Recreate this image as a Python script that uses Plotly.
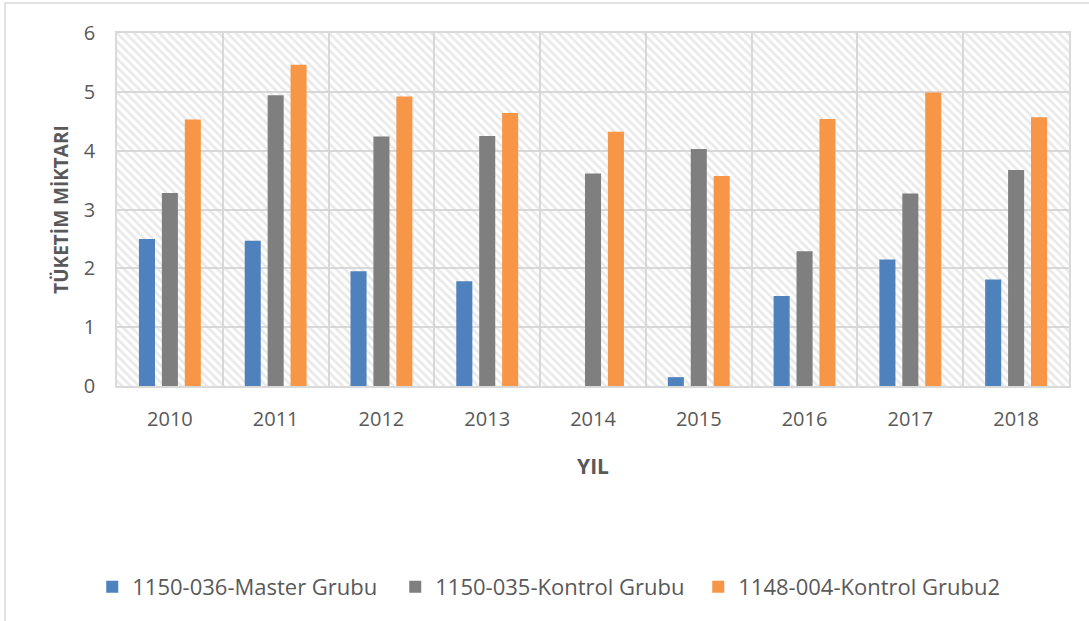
import plotly.graph_objects as go

years = ["2010", "2011", "2012", "2013", "2014", "2015", "2016", "2017", "2018"]
master = [2.50, 2.47, 1.95, 1.78, 0.0, 0.15, 1.53, 2.15, 1.81]
kontrol = [3.28, 4.94, 4.24, 4.25, 3.61, 4.03, 2.29, 3.27, 3.67]
kontrol2 = [4.53, 5.46, 4.92, 4.64, 4.32, 3.57, 4.54, 4.99, 4.57]

names = ["1150-036-Master Grubu", "1150-035-Kontrol Grubu", "1148-004-Kontrol Grubu2"]
colors = ["#4F81BD", "#7F7F7F", "#F79646"]

FONT = "Open Sans, sans-serif"
TXT = "#595959"

fig = go.Figure()

# hatched plot-area background
fig.add_trace(go.Bar(
    x=[0.5], y=[6], width=[1], xaxis="x", yaxis="y",
    marker=dict(color="rgba(0,0,0,0)", line=dict(width=0),
                pattern=dict(shape="\\", fgcolor="#D4D4D4", bgcolor="rgba(0,0,0,0)",
                             size=6, solidity=0.45, fillmode="overlay")),
    showlegend=False, hoverinfo="skip",
))

for vals, nm, c in zip([master, kontrol, kontrol2], names, colors):
    fig.add_trace(go.Bar(x=years, y=vals, name=nm, marker=dict(color=c, line=dict(width=0)),
                         xaxis="x2", yaxis="y"))

fig.update_layout(
    width=1089, height=621,
    margin=dict(l=117, r=20, t=33, b=235),
    paper_bgcolor="white", plot_bgcolor="white",
    barmode="group", bargap=0.35, bargroupgap=0.3,
    font=dict(family=FONT, color=TXT, size=20),
    xaxis=dict(range=[0, 1], visible=False, showgrid=False, fixedrange=True),
    xaxis2=dict(overlaying="x", type="category", tickson="boundaries", showgrid=True,
                gridcolor="#D9D9D9", gridwidth=1.5, showline=True, linecolor="#D9D9D9",
                linewidth=1.5, mirror=True, ticks="", ticklabelstandoff=14,
                tickfont=dict(size=20, color=TXT, family=FONT),
                title=dict(text="<b>YIL</b>", font=dict(size=21, color=TXT, family=FONT), standoff=29),
                side="bottom", anchor="y"),
    yaxis=dict(range=[0, 6], dtick=1, showgrid=True, gridcolor="#D9D9D9", gridwidth=1.5,
               showline=True, linecolor="#D9D9D9", linewidth=1.5, mirror=True, zeroline=False,
               ticks="", ticklabelstandoff=16, tickfont=dict(size=20, color=TXT, family=FONT),
               title=dict(text="<b>TÜKETİM MİKTARI</b>", font=dict(size=19, color=TXT, family=FONT),
                          standoff=10)),
    legend=dict(orientation="h", x=-0.026, xanchor="left", y=-0.51, yanchor="top",
                font=dict(size=22, color=TXT, family=FONT), itemwidth=30,
                traceorder="normal", entrywidth=258, entrywidthmode="pixels",
                itemsizing="constant"),
    shapes=[dict(type="rect", xref="paper", yref="paper",
                 x0=(5 - 117) / 952, x1=1.05, y0=-0.72, y1=(386 - 3) / 353,
                 line=dict(color="#D9D9D9", width=1.5), fillcolor="rgba(0,0,0,0)", layer="below")],
)

fig.write_html("out.html", config={"displayModeBar": False},
               post_script="document.body.style.margin='0';")
